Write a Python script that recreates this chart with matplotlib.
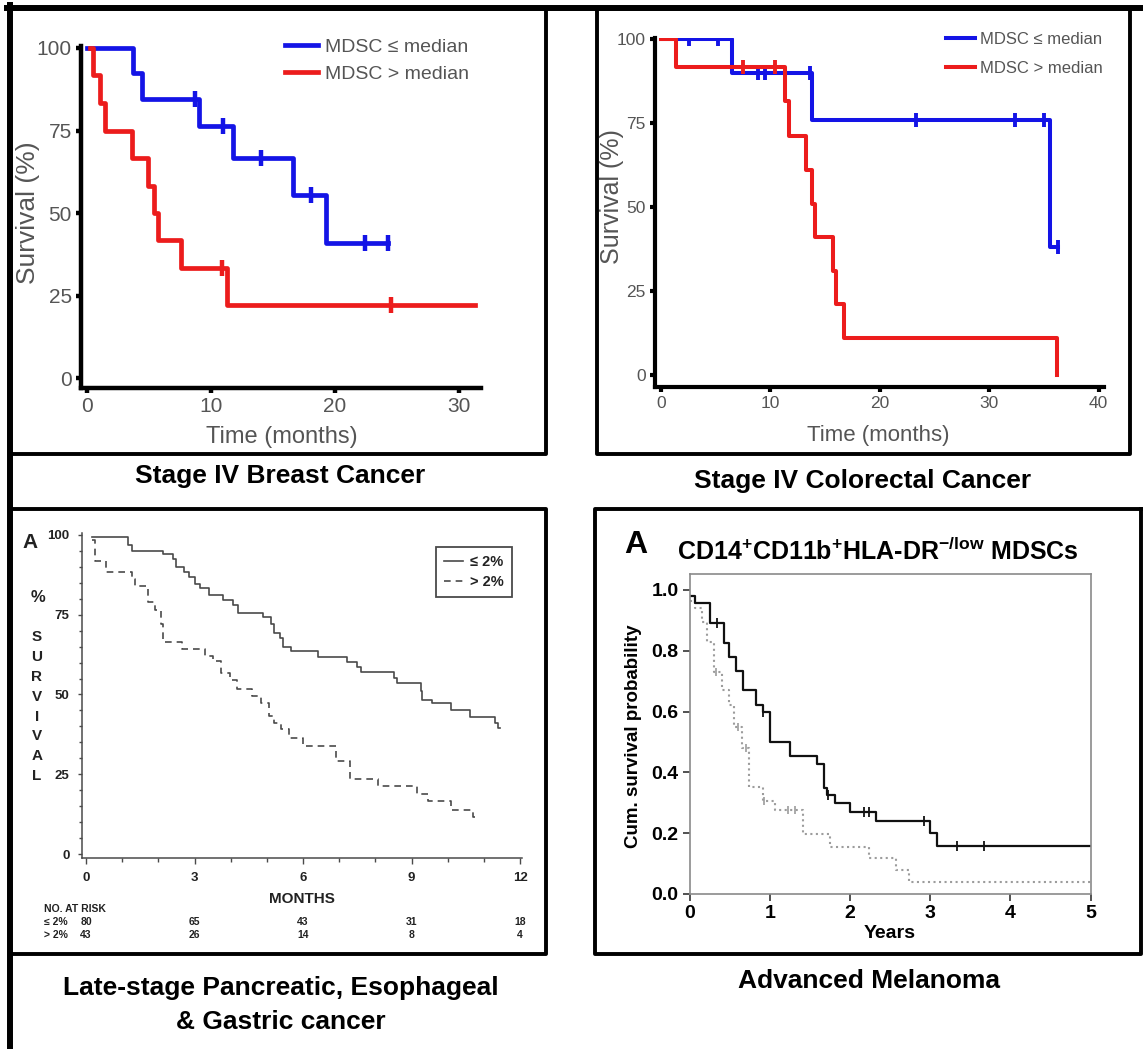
import numpy as np
import matplotlib
matplotlib.use('Agg')
import matplotlib.pyplot as plt
from matplotlib.transforms import blended_transform_factory

plt.rcParams.update({
    'font.family': ['Liberation Sans', 'DejaVu Sans'],
    'mathtext.fontset': 'custom',
    'mathtext.rm': 'Liberation Sans:bold',
    'mathtext.bf': 'Liberation Sans:bold',
    'mathtext.it': 'Liberation Sans:bold:italic',
})

W, H = 1143, 1049

# ── Panel 1: Stage IV breast cancer (months, % survival) ──
br_low_t = [0, 3.7, 4.4, 9.0, 11.8, 16.6, 19.3, 24.3]
br_low_s = [100, 92.3, 84.6, 76.5, 66.7, 55.6, 40.9, 40.9]
br_low_cens = [8.7, 11.0, 14.0, 18.1, 22.4, 24.3]
br_high_t = [0.25, 0.5, 1.0, 1.4, 3.6, 4.9, 5.4, 5.7, 7.6, 11.3, 31.3]
br_high_s = [100, 91.7, 83.3, 75.0, 66.7, 58.3, 50.0, 41.7, 33.3, 22.2, 22.2]
br_high_cens = [10.9, 24.5]

# ── Panel 2: Stage IV colorectal cancer ──
cr_low_t = [0, 6.5, 13.8, 35.6, 36.3]
cr_low_s = [100, 90, 76, 38, 38]
cr_low_cens = [2.6, 5.2, 8.9, 9.5, 13.6, 23.3, 32.4, 35.0, 36.3]
cr_high_t = [0, 1.4, 11.3, 11.7, 13.3, 13.8, 14.1, 15.7, 16.0, 16.7, 36.2]
cr_high_s = [100, 91.7, 81.5, 71, 61, 51, 41, 31, 21, 11, 0]
cr_high_cens = [7.5, 10.4]

# ── Panel 3: pancreatic / esophageal / gastric ──
pg_le_t = [0.16, 1.16, 1.26, 2.13, 2.4, 2.5, 2.7, 2.85, 3.0, 3.15, 3.4, 3.8,
           4.07, 4.2, 4.9, 5.1, 5.2, 5.35, 5.45, 5.66, 6.4, 7.2, 7.5, 7.6,
           8.5, 8.6, 9.25, 9.3, 9.55, 10.1, 10.6, 11.3, 11.4, 11.44]
pg_le_s = [99.2, 96.7, 95, 94, 92.3, 90, 88.5, 86.8, 84.6, 83.5, 81.3, 79.7,
           78, 75.6, 74.2, 72, 69.2, 67.6, 64.8, 63.7, 61.8, 60.2, 58.5, 57.1,
           55.2, 53.6, 51, 48.2, 47.3, 45, 42.9, 41.2, 39.6, 39.6]
pg_gt_t = [0.16, 0.24, 0.54, 1.26, 1.36, 1.72, 1.92, 2.08, 2.13, 2.64, 3.3,
           3.5, 3.72, 3.97, 4.18, 4.58, 4.84, 5.05, 5.2, 5.4, 5.6, 6.0, 6.9,
           7.3, 8.07, 9.14, 9.45, 10.1, 10.7, 10.8]
pg_gt_s = [98.4, 91.8, 88.5, 86.3, 84.1, 79, 76.4, 72, 66.5, 64.3, 62,
           60.4, 56.6, 54.4, 51.6, 49.5, 47.2, 43.4, 41.2, 39.3, 36.3, 34, 29.1,
           23.6, 21.4, 18.7, 16.5, 13.7, 11.5, 11.5]
risk_months = [0, 3, 6, 9, 12]
risk_le = [80, 65, 43, 31, 18]
risk_gt = [43, 26, 14, 8, 4]

# ── Panel 4: advanced melanoma (years, probability) ──
mel_lo_t = [0, 0.07, 0.25, 0.43, 0.49, 0.58, 0.67, 0.83, 0.92, 1.0, 1.25,
            1.59, 1.68, 1.72, 1.81, 2.0, 2.33, 3.0, 3.09, 5.0]
mel_lo_s = [0.98, 0.957, 0.89, 0.825, 0.78, 0.735, 0.67, 0.623, 0.6, 0.5,
            0.453, 0.427, 0.35, 0.325, 0.3, 0.27, 0.239, 0.2, 0.158, 0.158]
mel_lo_cens = [0.34, 0.92, 1.73, 2.17, 2.24, 2.92, 3.33, 3.67]
mel_hi_t = [0, 0.07, 0.16, 0.22, 0.31, 0.40, 0.49, 0.56, 0.65, 0.74, 0.92,
            1.07, 1.41, 1.75, 2.24, 2.57, 2.73, 5.0]
mel_hi_s = [0.963, 0.94, 0.894, 0.83, 0.73, 0.67, 0.623, 0.548, 0.479, 0.352,
            0.306, 0.275, 0.196, 0.156, 0.119, 0.08, 0.04, 0.04]
mel_hi_cens = [0.33, 0.61, 0.70, 0.93, 1.23, 1.32]

BLUE, RED = '#1414e6', '#ec1c1c'
GREY_TXT = '#555555'


def add_ax(l, t, r, b):
    ax = fig.add_axes([l / W, 1 - b / H, (r - l) / W, (b - t) / H], zorder=2)
    ax.patch.set_alpha(0)
    return ax


def surv_at(t, s, c):
    idx = np.searchsorted(t, c, side='right') - 1
    return np.asarray(s)[idx]


def frac(box, px, py):
    l, t, r, b = box
    return (px - l) / (r - l), (b - py) / (b - t)


fig = plt.figure(figsize=(W / 100, H / 100), dpi=100)
bg = fig.add_axes([0, 0, 1, 1], zorder=0)
bg.set_xlim(0, W); bg.set_ylim(H, 0); bg.axis('off')

# panel frames
K = dict(color='black', solid_capstyle='projecting')
bg.plot([7, W], [8, 8], lw=4.3, **K)
bg.plot([10, 10], [5, H], lw=4.3, **K)
bg.plot([10, 546, 546], [454, 454, 8], lw=2.8, **K)
bg.plot([597, 597, 1130, 1130], [8, 454, 454, 8], lw=2.8, **K)
bg.plot([10, 546, 546, 10], [509, 509, 954, 954], lw=2.8, **K)
bg.plot([1141, 595, 595, 1141, 1141], [509, 509, 954, 954, 509], lw=2.8, **K)

TITLE = dict(ha='center', va='center', fontsize=19, fontweight='bold')
bg.text(280, 476, 'Stage IV Breast Cancer', **TITLE)
bg.text(863, 481, 'Stage IV Colorectal Cancer', **TITLE)
bg.text(281, 988, 'Late-stage Pancreatic, Esophageal', **TITLE)
bg.text(281, 1022, '& Gastric cancer', **TITLE)
bg.text(869, 981, 'Advanced Melanoma', **TITLE)


def style_colour_km(ax, box, xt, lw_sp, fs, lab_fs, ylab_xy, xlab_xy):
    for sp in ('top', 'right'):
        ax.spines[sp].set_visible(False)
    for sp in ('left', 'bottom'):
        ax.spines[sp].set_linewidth(lw_sp)
    ax.set_xticks(xt)
    ax.set_yticks([0, 25, 50, 75, 100])
    ax.tick_params(length=3.5, width=lw_sp, pad=3, labelsize=fs,
                   labelcolor=GREY_TXT)
    ax.set_ylabel('Survival (%)', fontsize=lab_fs, color=GREY_TXT, va='center')
    ax.set_xlabel('Time (months)', fontsize=lab_fs - 2, color=GREY_TXT, va='center')
    ax.yaxis.set_label_coords(*frac(box, *ylab_xy))
    ax.xaxis.set_label_coords(*frac(box, *xlab_xy))


def km(ax, t, s, cens, color, lw, ms, mew, **kw):
    ax.step(t, s, where='post', color=color, lw=lw, **kw)
    if cens:
        ax.plot(cens, surv_at(t, s, cens), ls='none', marker='|', ms=ms,
                mew=mew, color=color)


# ── Panel 1 ──
box1 = (81, 46, 481, 388)
ax1 = add_ax(*box1)
ax1.set_xlim(-0.5, 31.8); ax1.set_ylim(-3.0, 100.6)
km(ax1, br_low_t, br_low_s, br_low_cens, BLUE, 3.4, 11, 3.2, label='MDSC \u2264 median')
km(ax1, br_high_t, br_high_s, br_high_cens, RED, 3.4, 11, 3.2, label='MDSC > median')
style_colour_km(ax1, box1, [0, 10, 20, 30], 3.2, 15, 19, (28, 213), (282, 437))
ax1.legend(loc='upper left', bbox_to_anchor=(285, 38), bbox_transform=bg.transData,
           frameon=False, fontsize=14, handlelength=1.7, handletextpad=0.35,
           labelspacing=0.5, borderpad=0, borderaxespad=0, labelcolor=GREY_TXT)

# ── Panel 2 ──
box2 = (655, 38, 1104, 387)
ax2 = add_ax(*box2)
ax2.set_xlim(-0.55, 40.5); ax2.set_ylim(-3.6, 100.3)
km(ax2, cr_low_t, cr_low_s, cr_low_cens, BLUE, 2.9, 10, 2.8, label='MDSC \u2264 median')
km(ax2, cr_high_t, cr_high_s, cr_high_cens, RED, 2.9, 10, 2.8, label='MDSC > median')
style_colour_km(ax2, box2, [0, 10, 20, 30, 40], 3.0, 12.5, 18, (612, 197), (878, 435))
ax2.legend(loc='upper left', bbox_to_anchor=(946, 32), bbox_transform=bg.transData,
           frameon=False, fontsize=12, handlelength=1.75, handletextpad=0.3,
           labelspacing=0.85, borderpad=0, borderaxespad=0, labelcolor=GREY_TXT)

# ── Panel 3 ──
DG = '#4a4a4a'
box3 = (82, 533, 522, 858)
ax3 = add_ax(*box3)
ax3.set_xlim(-0.11, 12.05); ax3.set_ylim(-1.25, 100.6)
ax3.step(pg_le_t, pg_le_s, where='post', color=DG, lw=1.2, label='\u2264 2%')
ax3.step(pg_gt_t, pg_gt_s, where='post', color=DG, lw=1.2, ls=(0, (4, 3)), label='> 2%')
for sp in ('top', 'right'):
    ax3.spines[sp].set_visible(False)
for sp in ('left', 'bottom'):
    ax3.spines[sp].set_linewidth(1.1)
    ax3.spines[sp].set_color(DG)
ax3.set_xticks(risk_months)
ax3.set_xticks(np.arange(0, 13, 1), minor=True)
ax3.set_yticks([0, 25, 50, 75, 100])
ax3.set_yticks(np.arange(0, 101, 5), minor=True)
ax3.tick_params(which='both', color=DG, width=1.0, labelsize=9.5,
                labelcolor='#222222')
ax3.tick_params(axis='x', which='major', length=4, pad=6)
ax3.tick_params(axis='x', which='minor', length=3)
ax3.tick_params(axis='y', which='major', length=3, pad=6)
ax3.tick_params(axis='y', which='minor', length=2)
for lab in ax3.get_xticklabels() + ax3.get_yticklabels():
    lab.set_fontweight('bold')
ax3.set_xlabel('MONTHS', fontsize=11, fontweight='bold', color='#222222', va='center')
ax3.xaxis.set_label_coords(*frac(box3, 302, 899))
leg3 = ax3.legend(loc='upper left', bbox_to_anchor=(436, 547), bbox_transform=bg.transData,
                  prop={'weight': 'bold', 'size': 10.5},
                  handlelength=1.3, handletextpad=0.5, labelspacing=0.4,
                  borderpad=0.55, borderaxespad=0, fancybox=False,
                  edgecolor=DG, framealpha=1)
leg3.get_frame().set_linewidth(1.3)
for txt in leg3.get_texts():
    txt.set_color('#222222')

ax3.text(30, 543, 'A', transform=bg.transData, ha='center', va='center',
         fontsize=15, fontweight='bold', color='#222222')
ax3.text(38, 598, '%', transform=bg.transData, ha='center', va='center',
         fontsize=12, fontweight='bold', color='#222222')
for i, ch in enumerate('SURVIVAL'):
    ax3.text(37, 637 + i * 19.9, ch, transform=bg.transData, ha='center',
             va='center', fontsize=11, fontweight='bold', color='#222222')

mix = blended_transform_factory(ax3.transData, bg.transData)
RT = dict(fontsize=7.5, fontweight='bold', color='#222222', va='center')
bg.text(44, 909, 'NO. AT RISK', **RT)
bg.text(44, 922, '\u2264 2%', **RT)
bg.text(44, 935, '> 2%', **RT)
for m, a, b in zip(risk_months, risk_le, risk_gt):
    ax3.text(m, 922, str(a), transform=mix, ha='center', **RT)
    ax3.text(m, 935, str(b), transform=mix, ha='center', **RT)

# ── Panel 4 ──
box4 = (689.5, 574, 1090.6, 894)
ax4 = add_ax(*box4)
ax4.set_xlim(0, 5); ax4.set_ylim(0, 1.0526)
km(ax4, mel_hi_t, mel_hi_s, mel_hi_cens, '#9c9c9c', 1.5, 6, 1.2, ls=':')
km(ax4, mel_lo_t, mel_lo_s, mel_lo_cens, '#111111', 1.6, 7, 1.3)
for sp in ax4.spines.values():
    sp.set_color('#8a8a8a')
    sp.set_linewidth(1.2)
ax4.set_xticks([0, 1, 2, 3, 4, 5])
ax4.set_yticks([0.0, 0.2, 0.4, 0.6, 0.8, 1.0])
ax4.set_yticklabels(['0.0', '0.2', '0.4', '0.6', '0.8', '1.0'])
ax4.tick_params(length=5, width=1.2, color='#333333', pad=3, labelsize=14)
for lab in ax4.get_xticklabels() + ax4.get_yticklabels():
    lab.set_fontweight('bold')
ax4.set_xlabel('Years', fontsize=14, fontweight='bold', va='center')
ax4.set_ylabel('Cum. survival probability', fontsize=13.5, fontweight='bold',
               va='center')
ax4.xaxis.set_label_coords(*frac(box4, 890, 934))
ax4.yaxis.set_label_coords(*frac(box4, 634, 736))
ax4.text(636, 545, 'A', transform=bg.transData, ha='center', va='center',
         fontsize=23, fontweight='bold')
ax4.text(878, 551, r'CD14$^{+}$CD11b$^{+}$HLA-DR$^{-/\mathrm{low}}$ MDSCs',
         transform=bg.transData, ha='center', va='center', fontsize=18,
         fontweight='bold')

fig.savefig('out.png', dpi=100)
